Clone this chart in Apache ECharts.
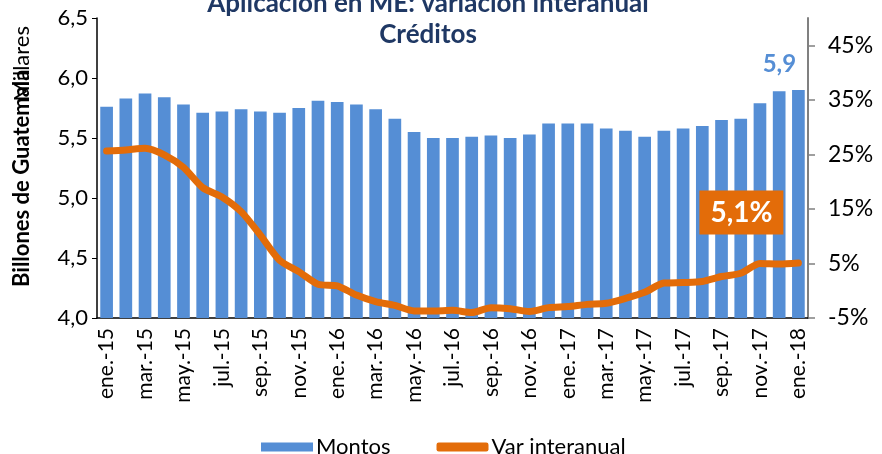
<!DOCTYPE html>
<html>
<head>
<meta charset="utf-8">
<script src="https://cdn.jsdelivr.net/npm/echarts@6/dist/echarts.min.js"></script>
<style>
  html, body { margin: 0; padding: 0; background: #fff; }
  #main { width: 882px; height: 454px; }
</style>
</head>
<body>
<div id="main"></div>
<script>
// meses ene.-15 .. ene.-18
let months = ['ene.-15','feb.-15','mar.-15','abr.-15','may.-15','jun.-15','jul.-15','ago.-15','sep.-15','oct.-15','nov.-15','dic.-15',
              'ene.-16','feb.-16','mar.-16','abr.-16','may.-16','jun.-16','jul.-16','ago.-16','sep.-16','oct.-16','nov.-16','dic.-16',
              'ene.-17','feb.-17','mar.-17','abr.-17','may.-17','jun.-17','jul.-17','ago.-17','sep.-17','oct.-17','nov.-17','dic.-17',
              'ene.-18'];

// Montos (billones)
let montos = [5.76, 5.83, 5.87, 5.84, 5.78, 5.71, 5.72, 5.74, 5.72, 5.71, 5.75, 5.81,
              5.80, 5.78, 5.74, 5.66, 5.55, 5.50, 5.50, 5.51, 5.52, 5.50, 5.53, 5.62,
              5.62, 5.62, 5.58, 5.56, 5.51, 5.56, 5.58, 5.60, 5.65, 5.66, 5.79, 5.89,
              5.90];

// Var interanual (%)
let varInteranual = [25.6, 25.8, 26.1, 24.9, 22.6, 18.9, 17.2, 14.5, 10.2, 5.6, 3.5, 1.2,
                     0.9, -0.8, -2.0, -2.7, -3.7, -3.7, -3.6, -4.0, -3.1, -3.3, -3.8, -3.1,
                     -2.9, -2.5, -2.3, -1.4, -0.3, 1.4, 1.5, 1.7, 2.6, 3.2, 5.0, 4.9,
                     5.1];

let leftTicks = [4.0, 4.5, 5.0, 5.5, 6.0, 6.5];
let rightTicks = [-5, 5, 15, 25, 35, 45];

let blue = '#558ED5';
let orange = '#E36C09';
let font = 'Lato';

let comma = function (v, d) {
    return v.toFixed(d).replace('.', ',');
};

let chart = echarts.init(document.getElementById('main'));

let lastBar = montos.length - 1;
let barData = montos.map(function (v, i) {
    if (i !== lastBar) return v;
    return {
        value: v,
        label: {
            show: true, position: 'top', distance: 4, offset: [-19, -10],
            formatter: function (p) { return comma(p.value, 1); },
            color: blue, fontSize: 24, fontWeight: 'bold', fontFamily: font
        }
    };
});
let lineData = varInteranual.map(function (v, i) {
    if (i !== lastBar) return v;
    return {
        value: v,
        symbolSize: 1,
        label: {
            show: true, position: 'top', distance: 0, offset: [-57, -28],
            formatter: function (p) { return comma(p.value, 1) + '%'; },
            color: '#fff', backgroundColor: orange, padding: [9, 11, 7, 11],
            fontSize: 28, fontFamily: font, fontWeight: 'bold'
        }
    };
});

let option = {
    animation: false,
    backgroundColor: '#fff',
    title: {
        text: 'Aplicación en ME: variación interanual\nCréditos',
        left: 423,
        top: -17,
        textAlign: 'center',
        textStyle: {
            color: '#1F3864', fontSize: 26, fontWeight: 'bold', fontFamily: font, lineHeight: 31
        }
    },
    legend: {
        left: 256,
        top: 431,
        itemGap: 46,
        itemWidth: 52,
        itemHeight: 9,
        textStyle: { color: '#000', fontSize: 22, fontFamily: font, padding: [0, 0, 0, -2] },
        data: [
            { name: 'Montos', icon: 'rect' },
            { name: 'Var interanual', icon: 'roundRect' }
        ]
    },
    grid: { left: 97, right: 74, top: 18, bottom: 136 },
    xAxis: {
        type: 'category',
        data: months,
        axisLine: { onZero: false, lineStyle: { color: '#000', width: 1.5 } },
        axisTick: { interval: 1, length: 6, lineStyle: { color: '#000' } },
        axisLabel: {
            interval: 1, rotate: 90, margin: 10,
            color: '#000', fontSize: 21, fontFamily: font
        }
    },
    yAxis: [
        {
            type: 'value',
            min: 4, max: 6.5, interval: 0.5,
            splitLine: { show: false },
            axisLine: { show: true, lineStyle: { color: '#000', width: 1.5 } },
            axisTick: { show: true, length: 5, lineStyle: { color: '#000' } },
            axisLabel: {
                margin: 9, color: '#000', fontSize: 22, fontFamily: font,
                customValues: leftTicks,
                formatter: function (v) { return comma(v, 1); }
            }
        },
        {
            type: 'value',
            min: -5, max: 50,
            splitLine: { show: false },
            axisLine: { show: true, lineStyle: { color: '#808080', width: 2 } },
            axisTick: { show: true, length: 7, customValues: rightTicks, lineStyle: { color: '#808080', width: 1.5 } },
            axisLabel: {
                margin: 20, color: '#000', fontSize: 23, fontFamily: font,
                customValues: rightTicks,
                formatter: function (v) { return v + '%'; }
            }
        }
    ],
    graphic: [
        {
            type: 'text', x: 22, y: 287, rotation: Math.PI / 2,
            style: { text: 'Billones de Guatemala', fontSize: 22, fontWeight: 'bold', fontFamily: font,
                     fill: '#000', align: 'left', verticalAlign: 'middle' }
        },
        {
            type: 'text', x: 22, y: 26, rotation: Math.PI / 2,
            style: { text: 'Millares', fontSize: 22, fontFamily: font,
                     fill: '#000', align: 'right', verticalAlign: 'middle' }
        }
    ],
    series: [
        {
            name: 'Montos',
            type: 'bar',
            yAxisIndex: 0,
            barCategoryGap: '34%',
            itemStyle: { color: blue },
            data: barData,
            z: 2
        },
        {
            name: 'Var interanual',
            type: 'line',
            yAxisIndex: 1,
            symbol: 'circle',
            symbolSize: 1,
            showSymbol: true,
            smooth: 0.25,
            lineStyle: { color: orange, width: 7, cap: 'round', join: 'round' },
            itemStyle: { color: orange },
            data: lineData,
            z: 3
        }
    ]
};
chart.setOption(option);
</script>
</body>
</html>
